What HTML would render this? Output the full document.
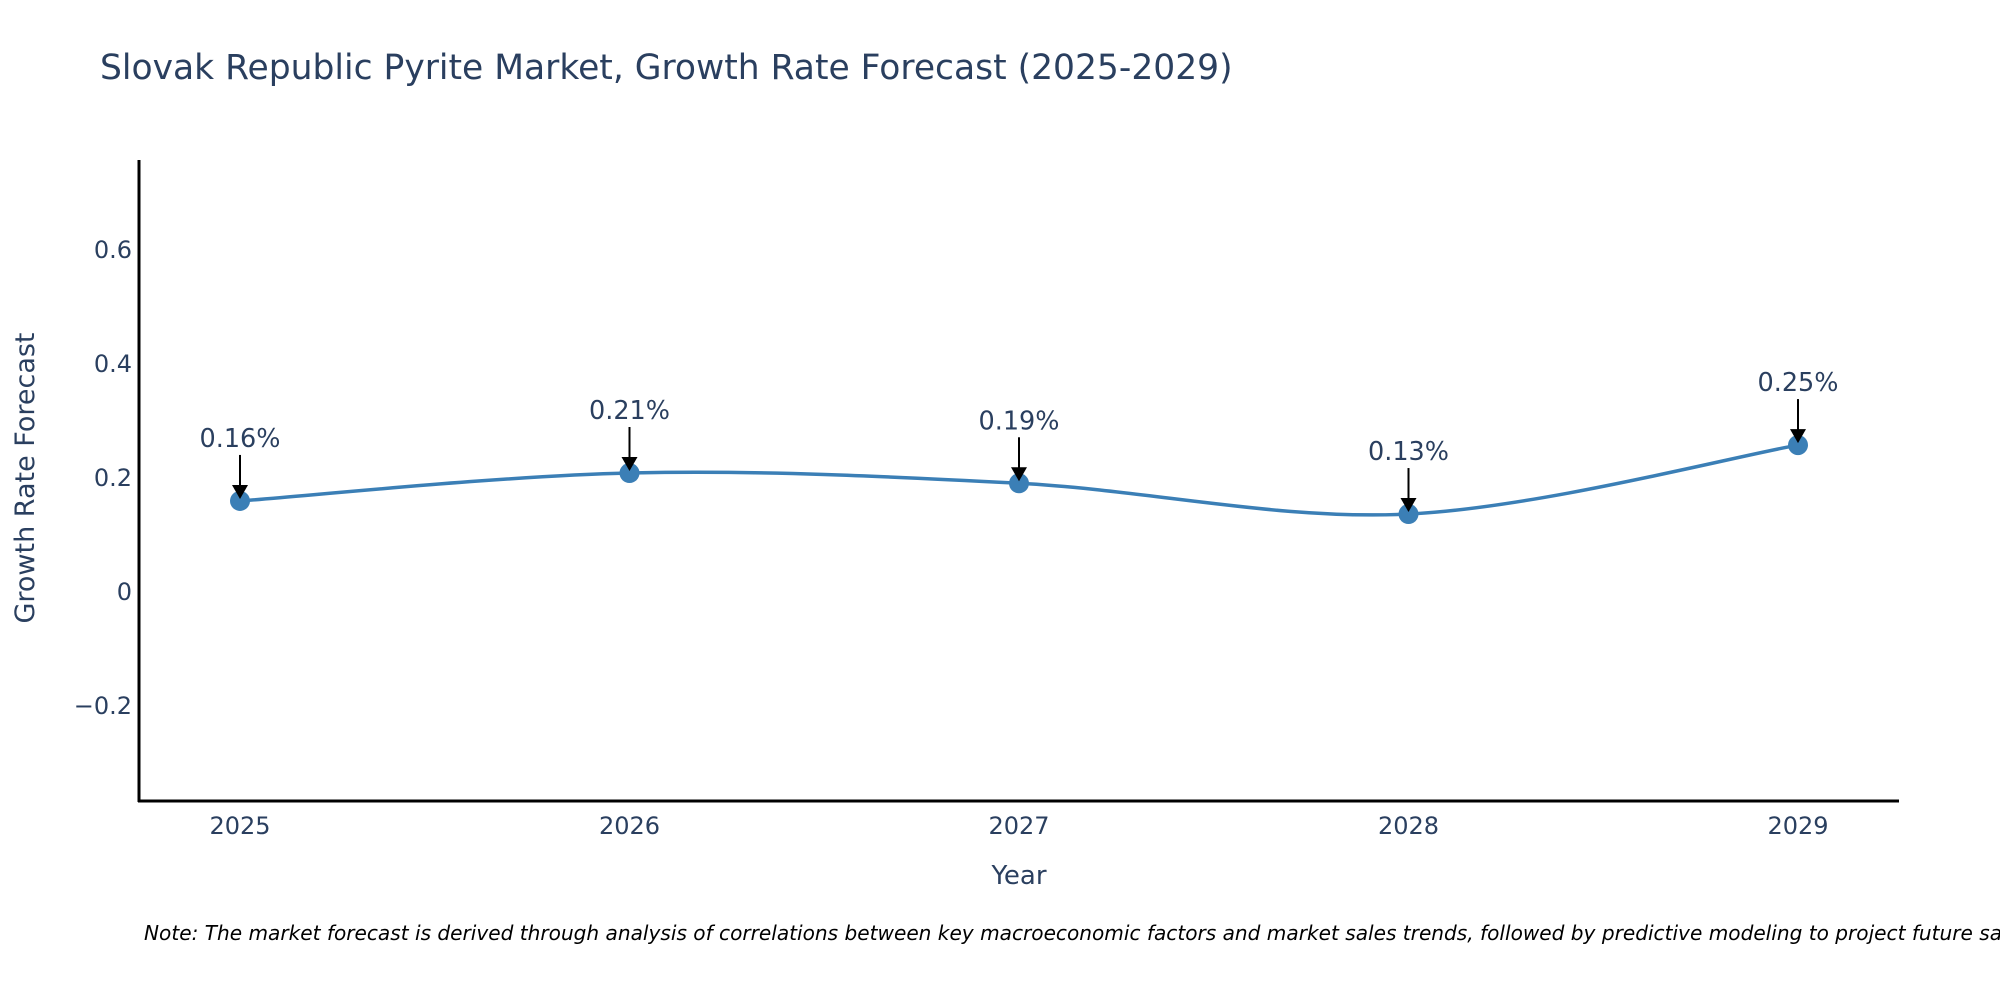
<!DOCTYPE html>
<html><head><meta charset="utf-8"><style>
body{margin:0;background:#fff;}
svg{font-family:"DejaVu Sans","Liberation Sans",sans-serif;}
</style></head><body>
<svg id="chart" width="2000" height="1000" xmlns="http://www.w3.org/2000/svg">
<text x="100" y="79" font-size="34.5" fill="#2a3f5f">Slovak Republic Pyrite Market, Growth Rate Forecast (2025-2029)</text>
<line x1="139" y1="160" x2="139" y2="802" stroke="#000" stroke-width="3"/>
<line x1="138" y1="801" x2="1899" y2="801" stroke="#000" stroke-width="3"/>
<text transform="translate(34,478) rotate(-90)" text-anchor="middle" font-size="27" fill="#2a3f5f">Growth Rate Forecast</text>
<text x="1019" y="884" text-anchor="middle" font-size="26" fill="#2a3f5f">Year</text>
<text x="144" y="940" font-size="20.1" font-style="italic" fill="#000">Note: The market forecast is derived through analysis of correlations between key macroeconomic factors and market sales trends, followed by predictive modeling to project future sales.</text>
<g id="plot"></g>
</svg>
<script>
const years=[2025,2026,2027,2028,2029];
const values=[0.158,0.207,0.189,0.135,0.256];
const labels=["0.16%","0.21%","0.19%","0.13%","0.25%"];
const yTicks=[-0.2,0,0.2,0.4,0.6];
const yTickLabels=["\u22120.2","0","0.2","0.4","0.6"];
const NS="http://www.w3.org/2000/svg";
const X=v=>240+(v-2025)*389.5;
const Y=v=>591-v*570;
const svg=document.getElementById('chart');
const plot=document.getElementById('plot');
function mk(tag,attrs,parent){const e=document.createElementNS(NS,tag);for(const k in attrs)e.setAttribute(k,attrs[k]);(parent||plot).appendChild(e);return e;}
yTicks.forEach((t,i)=>{
  const e=mk('text',{x:132,y:Y(t)+9,'text-anchor':'end','font-size':24,fill:'#2a3f5f'},svg);
  
  
  e.textContent=yTickLabels[i];
});
years.forEach(yr=>{
  const e=mk('text',{x:X(yr),y:834,'text-anchor':'middle','font-size':24,fill:'#2a3f5f'},svg);
  
  
  e.textContent=yr;
});
const pts=years.map((yr,i)=>[X(yr),Y(values[i])]);
let d=`M${pts[0][0]},${pts[0][1]}`;
for(let i=0;i<pts.length-1;i++){
  const p0=pts[i-1]||pts[i],p1=pts[i],p2=pts[i+1],p3=pts[i+2]||pts[i+1];
  const t=1/3;
  const c1=[p1[0]+(p2[0]-p0[0])*t/2,p1[1]+(p2[1]-p0[1])*t/2];
  const c2=[p2[0]-(p3[0]-p1[0])*t/2,p2[1]-(p3[1]-p1[1])*t/2];
  d+=` C${c1[0]},${c1[1]} ${c2[0]},${c2[1]} ${p2[0]},${p2[1]}`;
}
const line=mk('path',{d:d,fill:'none',stroke:'#3b7fb6','stroke-width':3.5});


pts.forEach((p,i)=>{
  const c=mk('circle',{cx:p[0],cy:p[1],r:10,fill:'#3b7fb6'});
  
  
  const a=mk('line',{x1:p[0],y1:p[1]-46,x2:p[0],y2:p[1]-14,stroke:'#000','stroke-width':2});
  
  
  const h=mk('path',{d:`M${p[0]-8},${p[1]-16} L${p[0]+8},${p[1]-16} L${p[0]},${p[1]-2} Z`,fill:'#000'});
  
  
  const t=mk('text',{x:p[0],y:p[1]-54,'text-anchor':'middle','font-size':25.5,fill:'#2a3f5f'});
  
  
  t.textContent=labels[i];
});
</script>
</body></html>
